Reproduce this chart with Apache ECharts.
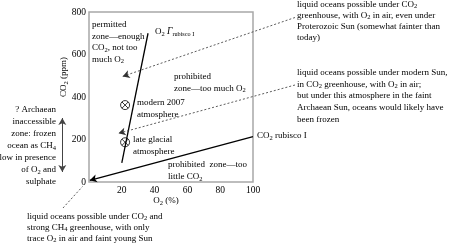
<!DOCTYPE html>
<html><head><meta charset="utf-8">
<script src="https://cdn.jsdelivr.net/npm/echarts@6/dist/echarts.min.js"></script>
<style>html,body{margin:0;padding:0;background:#fff}#c{width:451px;height:247px}</style>
</head><body><div id="c"></div>
<script>
// ---- data ----
const o2Range = [0, 100];            // O2 (%)
const co2Range = [0, 800];           // CO2 (ppm)
const o2Interval = 20;
const co2Interval = 200;
const o2GammaLine = [[20, 90], [36, 700]];      // O2 Γ rubisco I
const co2RubiscoLine = [[100, 214], [0.5, 8]];  // CO2 rubisco I (arrow at origin end)
const atmosphereNames = ['modern 2007 atmosphere', 'late glacial atmosphere'];
const atmosphereO2 = [22, 22];
const atmosphereCO2 = [362, 187];
const proterozoicTarget = [20.5, 497];
const modernSunTarget = [18, 229];

// ---- chart ----
const FONT = 'Liberation Serif';
const FS = 9;
const rich = {
  s: { fontSize: 6.5, lineHeight: 6, verticalAlign: 'bottom', fontFamily: FONT, fill: '#000' },
  i: { fontStyle: 'italic', fontSize: 9.5, fontFamily: FONT, fill: '#000' },
  ss: { fontSize: 6.2, lineHeight: 5, verticalAlign: 'bottom', fontFamily: FONT, fill: '#000' }
};
function txt(x, y, text, lh, align, extra) {
  return Object.assign({
    type: 'text', x: x, y: y, silent: true,
    style: { text: text, rich: rich, fontFamily: FONT, fontSize: FS, lineHeight: lh || 11.5,
      fill: '#000', align: align || 'left', verticalAlign: 'top' }
  }, extra || {});
}

const chart = echarts.init(document.getElementById('c'));
const dash = { color: '#333', width: 0.8, type: [2, 2] };
const solid = { color: '#000', width: 1.3, type: 'solid' };

const yName = txt(64, 77, 'CO{s|2} (ppm)', 11, 'center');
yName.rotation = Math.PI / 2;
yName.style.verticalAlign = 'middle';

chart.setOption({
  animation: false,
  grid: { left: 89, top: 12, width: 164, height: 170, show: true, borderColor: '#a8a8a8', borderWidth: 1.5 },
  xAxis: { type: 'value', min: o2Range[0], max: o2Range[1], interval: o2Interval,
    axisLine: { show: false }, axisTick: { show: false }, splitLine: { show: false },
    axisLabel: { fontFamily: FONT, fontSize: 9.5, color: '#000', margin: 3, formatter: v => v === 0 ? '' : String(v) } },
  yAxis: { type: 'value', min: co2Range[0], max: co2Range[1], interval: co2Interval,
    axisLine: { show: false }, axisTick: { show: false }, splitLine: { show: false },
    axisLabel: { fontFamily: FONT, fontSize: 9.5, color: '#000', margin: 3 } },
  series: [
    { type: 'line', data: o2GammaLine, symbol: 'none', silent: true, lineStyle: solid },
    { type: 'scatter', data: atmosphereO2.map((v, k) => ({ name: atmosphereNames[k], value: [v, atmosphereCO2[k]] })),
      symbol: 'path://M0,-10A10,10 0 1,1 0,10A10,10 0 1,1 0,-10Z M-7,-7L7,7M7,-7L-7,7',
      symbolSize: 9, silent: true,
      itemStyle: { color: 'rgba(0,0,0,0)', borderColor: '#000', borderWidth: 1 } },
    { type: 'line', data: [], silent: true,
      markLine: { silent: true, animation: false, label: { show: false }, emphasis: { disabled: true },
        symbolSize: [6, 7],
        data: [
          [{ coord: co2RubiscoLine[0], symbol: 'none', lineStyle: solid }, { coord: co2RubiscoLine[1], symbol: 'arrow' }],
          [{ x: 295, y: 17.5, symbol: 'none', lineStyle: dash }, { coord: proterozoicTarget, symbol: 'arrow' }],
          [{ x: 295, y: 85, symbol: 'none', lineStyle: dash }, { coord: modernSunTarget, symbol: 'arrow' }],
          [{ x: 63, y: 208, symbol: 'none', lineStyle: dash }, { x: 82.5, y: 186.5, symbol: 'none' }],
          [{ x: 62.3, y: 118, symbol: 'arrow', lineStyle: { color: '#444', width: 1, type: 'solid' } }, { x: 62.3, y: 172, symbol: 'arrow' }]
        ] } }
  ],
  graphic: [
    yName,
    txt(92, 19, 'permitted\nzone—enough\nCO{s|2}, not too\nmuch O{s|2}', 11.5),
    txt(155, 26, 'O{s|2} {i|Γ}{ss|rubisco I}', 11.5),
    txt(174, 71, 'prohibited\nzone—too much O{s|2}', 11.5),
    txt(137, 97, 'modern 2007\natmosphere', 12),
    txt(133, 133, 'late glacial\natmosphere', 12.5),
    txt(168, 159, 'prohibited  zone—too\nlittle CO{s|2}', 12),
    txt(257, 130, 'CO{s|2} rubisco I', 11.5),
    txt(166, 195, 'O{s|2} (%)', 11.5, 'center'),
    txt(297, -1, 'liquid oceans possible under CO{s|2}\ngreenhouse, with O{s|2} in air, even under\nProterozoic Sun (somewhat fainter than\ntoday)', 11),
    txt(297, 67, 'liquid oceans possible under modern Sun,\nin CO{s|2} greenhouse, with O{s|2} in air;\nbut under this atmosphere in the faint\nArchaean Sun, oceans would likely have\nbeen frozen', 11.6),
    txt(56, 104, '? Archaean\ninaccessible\nzone: frozen\nocean as CH{s|4}\nlow in presence\nof O{s|2} and\nsulphate', 12, 'right'),
    txt(27, 211, 'liquid oceans possible under CO{s|2} and\nstrong CH{s|4} greenhouse, with only\ntrace O{s|2} in air and faint young Sun', 11)
  ]
});
</script></body></html>
